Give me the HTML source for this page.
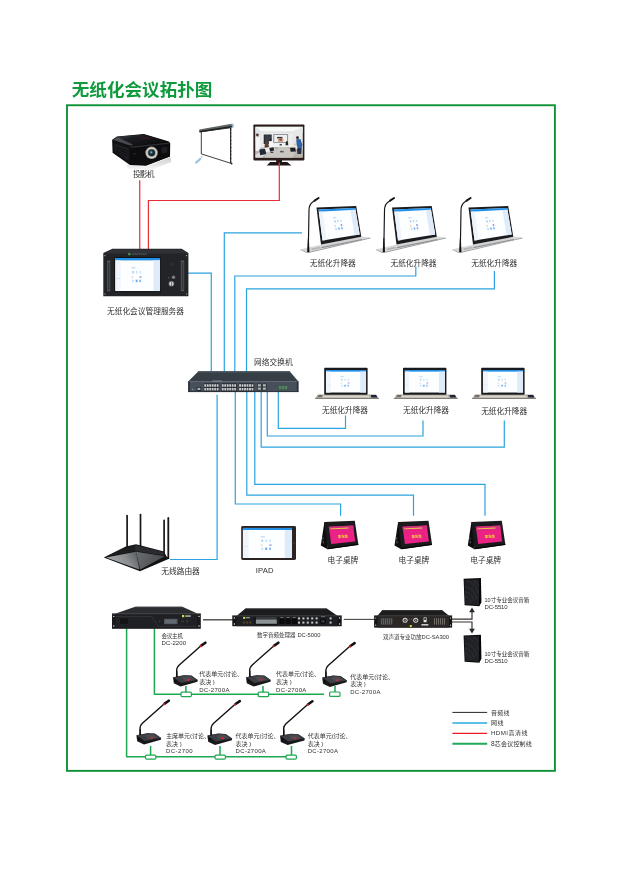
<!DOCTYPE html>
<html lang="zh-CN">
<head>
<meta charset="utf-8">
<title>无纸化会议拓扑图</title>
<style>
html,body{margin:0;padding:0;background:#fff;}
body{width:625px;height:883px;overflow:hidden;position:relative;font-family:"Liberation Sans","Noto Sans CJK SC",sans-serif;}
svg{position:absolute;left:0;top:0;display:block;will-change:transform;}
text{font-family:"Liberation Sans","Noto Sans CJK SC",sans-serif;}
.t7{font-size:7.7px;fill:#303030;font-weight:400;}
.t5{font-size:5.5px;fill:#303030;font-weight:400;}
.t5m{font-size:6px;fill:#303030;font-weight:400;}
.t5e{font-size:6px;fill:#303030;font-weight:400;}
.t6{font-size:6px;fill:#303030;font-weight:400;}
.bl{fill:none;stroke:#2ba3e0;stroke-width:1.2;}
.rd{fill:none;stroke:#ea2c36;stroke-width:1.2;}
.gn{fill:none;stroke:#1ea650;stroke-width:1.5;stroke-linejoin:round;}
.gy{fill:none;stroke:#4a4a4a;stroke-width:0.9;}
.cn{fill:#fff;stroke:#1ea650;stroke-width:1.2;}
</style>
</head>
<body>
<svg width="625" height="883" viewBox="0 0 625 883">
<!-- frame + title -->
<rect x="67" y="105.25" width="487.9" height="665.6" fill="none" stroke="#0d9236" stroke-width="1.9"/>
<text x="71.8" y="95.5" font-size="17.2" font-weight="700" fill="#0f9a3c" textLength="140.6" lengthAdjust="spacingAndGlyphs">无纸化会议拓扑图</text>

<!-- LINES -->
<g id="lines">
<!-- red hdmi -->
<path class="rd" d="M139.75 180.2V249"/>
<path class="rd" d="M279.3 163V200.5H148.4V249"/>
<!-- blue network: above switch -->
<path class="bl" d="M188 273.1H211.3V372"/>
<path class="bl" d="M302 232.8H224.3V372"/>
<path class="bl" d="M415.8 266.6V276H234.8V372"/>
<path class="bl" d="M494.4 271V288.8H246.5V372"/>
<!-- blue network: below switch -->
<path class="bl" d="M217.1 394.8V559.5H170"/>
<path class="bl" d="M235.3 392V504H340.6V515.7"/>
<path class="bl" d="M246.8 392V495.1H413.5V515.7"/>
<path class="bl" d="M254.8 392V484.4H485V515.7"/>
<path class="bl" d="M261.2 392V447.1H504.3V420.4"/>
<path class="bl" d="M267.3 392V436H423V420.4"/>
<path class="bl" d="M278.3 392V428.4H345.5V415.5"/>
<!-- gray audio -->
<path d="M203 619.8H233" stroke="#4d4848" stroke-width="1.4" fill="none"/>
<path d="M343.8 619.4H374" stroke="#4d4848" stroke-width="1.1" fill="none"/>
<path d="M451.6 619.2H472V611" stroke="#3a3432" stroke-width="1.2" fill="none"/>
<path d="M451.6 622H472V630" stroke="#3a3432" stroke-width="1.2" fill="none"/>
<path d="M472 607.4L474.9 612.2H469.1Z" fill="#2a2624"/>
<path d="M472 633.4L474.9 628.8H469.1Z" fill="#2a2624"/>
<!-- green control -->
<path class="gn" d="M154.4 628.5V694.3H324"/>
<path class="gn" d="M126.6 628.5V756.7H291"/>
<path class="gn" d="M185.9 686V692M263 686V692M335 686V692M150.6 746V755M220 746V755M291.5 746V755" stroke-width="1.2"/>
<rect class="cn" x="181" y="692.2" width="10.4" height="4.4" rx="1"/>
<rect class="cn" x="258.2" y="692.2" width="10.4" height="4.4" rx="1"/>
<rect class="cn" x="329.6" y="692" width="10.4" height="4.4" rx="1"/>
<rect class="cn" x="145.5" y="755.1" width="10.4" height="4" rx="1.2"/>
<rect class="cn" x="215" y="755.1" width="10.4" height="4" rx="1.2"/>
<rect class="cn" x="286" y="755.1" width="10.4" height="4" rx="1.2"/>
<!-- legend -->
<path d="M452.4 712.4H487.2" stroke="#2a2422" stroke-width="1" fill="none"/>
<path d="M452.4 723H487.2" stroke="#29abe2" stroke-width="1.7" fill="none"/>
<path d="M452.4 733.4H487.2" stroke="#ed1c24" stroke-width="1.2" fill="none"/>
<path d="M452.4 743.8H487.2" stroke="#1fa85a" stroke-width="1.9" fill="none"/>
</g>

<!-- DEVICES -->
<g id="devices">
<defs>
<linearGradient id="gProjTop" x1="0" y1="0" x2="1" y2="0.8"><stop offset="0" stop-color="#4a4d55"/><stop offset="0.35" stop-color="#1c1d21"/><stop offset="1" stop-color="#0a0a0c"/></linearGradient>
<radialGradient id="gLens" cx="0.45" cy="0.42" r="0.6"><stop offset="0" stop-color="#8fd6dc"/><stop offset="0.35" stop-color="#1d4a58"/><stop offset="1" stop-color="#0a0d10"/></radialGradient>
<linearGradient id="gShadow" x1="0" y1="0" x2="0" y2="1"><stop offset="0" stop-color="#c6c6c6"/><stop offset="1" stop-color="#f6f6f6"/></linearGradient>
</defs>
<!-- projector -->
<g id="projector">
<path d="M126 164.6L146 166.8L170.6 157L171.4 162L150 170.2L128 168.4Z" fill="url(#gShadow)" opacity="0.85"/>
<path d="M112.2 139.8L117 136.4L143.9 134L168.8 141.4L170.2 143.6L170 156.6L146 165.8L130 165L112.6 152.8Z" fill="#0a0a0c"/>
<path d="M112.8 139.8L117.2 136.8L143.9 134.6L168.6 141.8L130.6 146.2Z" fill="url(#gProjTop)"/>
<path d="M113.4 140L118 137.4L133 144.6L130.6 145.8Z" fill="#6d7078" opacity="0.55"/>
<path d="M138 137.7L146.6 136.9L152.4 138.5L143.4 139.7Z" fill="#3a171b" opacity="0.85"/>
<path d="M112.8 140.6L130.4 146.6L130.4 164.4L113 152.4Z" fill="#111214"/>
<path d="M114.6 143.4L128.6 148.2V160.6L114.8 151Z" fill="#1d1f23"/>
<path d="M116 146.6L127.6 151M116 148.8L127.6 153.4M116 151L127.6 156" stroke="#08080a" stroke-width="0.7" fill="none"/>
<path d="M130.6 146.6L169.6 142.6L169.6 156.4L146 165.2L130.6 164.4Z" fill="#0d0d0f"/>
<path d="M130.6 146.6L169.6 142.6L169.6 143.8L130.6 148Z" fill="#34363c" opacity="0.8"/>
<circle cx="151.6" cy="152.8" r="6.2" fill="#a9a59e"/>
<circle cx="151.6" cy="152.8" r="5.3" fill="#dedbd4"/>
<circle cx="151.6" cy="152.8" r="4.1" fill="#8a8680"/>
<circle cx="151.6" cy="152.8" r="3.3" fill="url(#gLens)"/>
<path d="M161.6 147.6L167.4 146.8V152.4L161.6 153.6Z" fill="#1e2024"/>
<rect x="133" y="153" width="3.4" height="1.6" rx="0.6" fill="#202226"/>
</g>

<!-- audio processor DC-5000 -->
<g id="proc">
<path d="M245.4 608.4H326.8L337.4 615.8H236.8Z" fill="#1c1c1f"/>
<path d="M245.8 608.4H326.4L327.6 609.2H244.6Z" fill="#3a3c40"/>
<rect x="232.3" y="615.6" width="109.4" height="10.6" fill="#141416"/>
<rect x="236.6" y="615.6" width="100.8" height="10.6" fill="#1e1f22"/>
<rect x="232.3" y="615.6" width="109.4" height="0.7" fill="#3a3c40"/>
<circle cx="234.4" cy="618" r="0.7" fill="#e6e6e6"/><circle cx="234.4" cy="624" r="0.7" fill="#e6e6e6"/>
<circle cx="339.6" cy="618" r="0.7" fill="#e6e6e6"/><circle cx="339.6" cy="624" r="0.7" fill="#e6e6e6"/>
<rect x="243.2" y="616.9" width="2" height="2" fill="#cfe04a"/>
<rect x="246" y="617.2" width="4" height="1" fill="#b0b2b5"/>
<circle cx="243.8" cy="622.6" r="1.3" fill="#4a3a2a"/><circle cx="247" cy="622.6" r="1.3" fill="#4a3a2a"/><circle cx="250.2" cy="622.6" r="1.3" fill="#4a3a2a"/>
<rect x="254.6" y="617" width="22.6" height="7.4" fill="#0c0c0e"/>
<rect x="255.8" y="619.4" width="21" height="4.4" fill="#8e9396"/>
<rect x="255.8" y="617.4" width="21" height="1.2" fill="#55585c"/>
<rect x="279.4" y="618.6" width="5.2" height="5.4" rx="0.6" fill="#0a0a0c"/>
<rect x="280.4" y="617.2" width="3" height="0.7" fill="#8a8c90"/>
<rect x="285.6" y="618.6" width="5.2" height="5.4" rx="0.6" fill="#0a0a0c"/>
<rect x="286.6" y="617.2" width="3" height="0.7" fill="#8a8c90"/>
<rect x="291.8" y="618.6" width="5.2" height="5.4" rx="0.6" fill="#0a0a0c"/>
<rect x="292.8" y="617.2" width="3" height="0.7" fill="#8a8c90"/>
<rect x="298.0" y="617.4" width="2" height="2" fill="#c8cacc"/>
<rect x="302.4" y="617.4" width="2" height="2" fill="#c8cacc"/>
<rect x="306.8" y="617.4" width="2" height="2" fill="#c8cacc"/>
<rect x="311.2" y="617.4" width="2" height="2" fill="#c8cacc"/>
<rect x="315.6" y="617.4" width="2" height="2" fill="#c8cacc"/>
<rect x="298.0" y="621.6" width="2" height="2" fill="#c8cacc"/>
<rect x="302.4" y="621.6" width="2" height="2" fill="#c8cacc"/>
<rect x="306.8" y="621.6" width="2" height="2" fill="#c8cacc"/>
<rect x="311.2" y="621.6" width="2" height="2" fill="#c8cacc"/>
<rect x="315.6" y="621.6" width="2" height="2" fill="#c8cacc"/>
<circle cx="323" cy="621.2" r="3" fill="#0a0a0c"/><circle cx="323" cy="621.2" r="1.8" fill="#34363a"/>
<rect x="321" y="616.4" width="4" height="0.7" fill="#8a8c90"/>
<rect x="329.6" y="617.4" width="2" height="2" fill="#c8cacc"/><rect x="329.6" y="621.6" width="2" height="2" fill="#c8cacc"/>
</g>

<!-- amp DC-SA300 -->
<g id="amp">
<path d="M382.4 610H442L449 615.8H377.4Z" fill="#1f1d1c"/>
<path d="M382.8 610H441.6L442.6 610.8H381.8Z" fill="#3a3c40"/>
<rect x="374.1" y="615.6" width="78" height="12" fill="#141416"/>
<rect x="377.4" y="615.6" width="71.6" height="12" fill="#2a2725"/>
<rect x="374.1" y="615.6" width="78" height="0.7" fill="#3a3c40"/>
<circle cx="375.7" cy="618" r="0.6" fill="#e6e6e6"/><circle cx="375.7" cy="625.2" r="0.6" fill="#e6e6e6"/>
<circle cx="450.5" cy="618" r="0.6" fill="#e6e6e6"/><circle cx="450.5" cy="625.2" r="0.6" fill="#e6e6e6"/>
<rect x="380.5" y="617.7" width="12.4" height="7.4" fill="#2a2b2e"/>
<rect x="381.30" y="618.2" width="0.9" height="6.4" fill="#77736f"/>
<rect x="383.30" y="618.2" width="0.9" height="6.4" fill="#77736f"/>
<rect x="385.30" y="618.2" width="0.9" height="6.4" fill="#77736f"/>
<rect x="387.30" y="618.2" width="0.9" height="6.4" fill="#77736f"/>
<rect x="389.30" y="618.2" width="0.9" height="6.4" fill="#77736f"/>
<rect x="391.30" y="618.2" width="0.9" height="6.4" fill="#77736f"/>
<rect x="433.3" y="617.7" width="12.4" height="7.4" fill="#2a2b2e"/>
<rect x="434.10" y="618.2" width="0.9" height="6.4" fill="#77736f"/>
<rect x="436.10" y="618.2" width="0.9" height="6.4" fill="#77736f"/>
<rect x="438.10" y="618.2" width="0.9" height="6.4" fill="#77736f"/>
<rect x="440.10" y="618.2" width="0.9" height="6.4" fill="#77736f"/>
<rect x="442.10" y="618.2" width="0.9" height="6.4" fill="#77736f"/>
<rect x="444.10" y="618.2" width="0.9" height="6.4" fill="#77736f"/>
<circle cx="405.1" cy="620.2" r="2.5" fill="#d9dadb"/><circle cx="405.1" cy="620.2" r="1.5" fill="#2a2b2e"/><circle cx="405.1" cy="620.2" r="0.6" fill="#c8c9ca"/>
<circle cx="415.7" cy="620.2" r="2.5" fill="#d9dadb"/><circle cx="415.7" cy="620.2" r="1.5" fill="#2a2b2e"/><circle cx="415.7" cy="620.2" r="0.6" fill="#c8c9ca"/>
<circle cx="409.2" cy="619.2" r="0.6" fill="#d8343a"/><circle cx="411.6" cy="619.2" r="0.6" fill="#d8343a"/>
<rect x="409.8" y="625" width="2" height="2" fill="#c9e04a"/>
<rect x="423.6" y="617.4" width="3" height="4.8" fill="#e4e5e6"/><rect x="424.3" y="618" width="1.6" height="2" fill="#2a2b2e"/>
<rect x="421.4" y="624" width="7" height="1.6" fill="#c8c9ca"/>
</g>
<!-- speakers -->
<defs><g id="spk">
<path d="M463.6 578.8L480.9 578.1L481.3 602.2L479.4 606.2L464.6 605.2Z" fill="#0c0c0e"/>
<path d="M464.4 580L479.2 579.4L479 605.2L465.2 604.2Z" fill="#202125"/>
<path d="M465 587C470 587 475 591 477 599M465 592C469 592 472 595 474 601M465 597C467.6 597 470 599 471 603M467 581C472 582 477 587 478.6 594M473 580.4C475.6 581.6 477.6 583.6 478.6 586" fill="none" stroke="#35373c" stroke-width="0.7"/>
<path d="M466 604L478 590M468 604L478.6 596M465 598L476 581" fill="none" stroke="#2b2d31" stroke-width="0.5"/>
<path d="M479.4 579.2L481 578.6L481.2 602L479.2 605.6Z" fill="#060607"/>
</g></defs>
<use href="#spk"/>
<use href="#spk" y="56.6"/>

<!-- microphones -->
<defs>
<g id="mic">
<path d="M173 677.2L183.8 675.2L191.4 675.6L197.8 680L197.4 681.8L180.6 686.5L173.8 683.3Z" fill="#18181b"/>
<path d="M173.2 677.2L183.8 675.4L191.2 675.8L197.4 680L181.4 683Z" fill="#3d3f44"/>
<path d="M182 677L190 676.6L193.6 679.4L184.6 681Z" fill="#4a4d53"/>
<rect x="174.6" y="679.6" width="1.6" height="2.2" fill="#0a0a0c"/>
<circle cx="188.4" cy="679.8" r="1.15" fill="#e0202c"/>
<path d="M176.7 676.4V669.6C176.7 667.6 177.6 666.6 179 665.2L200.4 646.2" fill="none" stroke="#111113" stroke-width="1.4" stroke-linecap="round" stroke-linejoin="round"/>
<path d="M176 677L176.2 671H177.3L177.6 677Z" fill="#111113"/>
<path d="M201.2 645.6L205.4 642.7" stroke="#111113" stroke-width="2.6" stroke-linecap="round"/>
<path d="M200.1 646.6L201.4 645.5" stroke="#d8202c" stroke-width="2.2"/>
</g>
</defs>
<use href="#mic"/>
<use href="#mic" x="73"/>
<use href="#mic" x="149.2" y="0.4"/>
<use href="#mic" x="-36.6" y="58"/>
<use href="#mic" x="34.4" y="58.4"/>
<use href="#mic" x="107" y="58.6"/>

<!-- projection screen -->
<g id="pscreen">
<path d="M201.3 131.6L230.5 127.8L230.5 163.2L201.3 153.9Z" fill="#fff" stroke="#26282b" stroke-width="0.9"/>
<path d="M230.9 128V164" stroke="#1d1f22" stroke-width="1" stroke-dasharray="3 0.6"/>
<circle cx="231.6" cy="163.6" r="0.9" fill="#1d1f22"/>
<path d="M199.2 129.4L231.6 123.7L233 126.9L199.5 132.2Z" fill="#5f6562"/>
<path d="M199.3 131L232.8 125.8L233 127.3L199.5 132.6Z" fill="#1e2022"/>
<path d="M231.2 123.7L233.3 123.5L234 126.8L232.2 127.3Z" fill="#8fb4df"/>
<path d="M194.8 162.2L200.2 157.6L201.6 159.2L196.2 164Z" fill="#9ec3da"/>
<circle cx="201.8" cy="156.9" r="0.7" fill="#e98a8a"/>
</g>
<!-- TV -->
<g id="tv">
<path d="M276.2 160H282V162H287.2L291.4 165.4H266.7L270.2 162H276.2Z" fill="#1f1715"/>
<rect x="253.4" y="124.4" width="51" height="36" rx="0.8" fill="#2b1e1b"/>
<rect x="255.5" y="126.8" width="47.1" height="30.7" fill="#eceeed"/>
<rect x="255.5" y="126.8" width="47.1" height="4.8" fill="#f7f8f8"/>
<rect x="255.5" y="131.5" width="47.1" height="1.3" fill="#dfe2e2"/>
<path d="M255.5 126.8L261.5 131.5L261.5 147.9L255.5 150.5Z" fill="#e2e6e8"/>
<path d="M302.5 126.8L292.6 131.5L292.6 147.1L302.5 150.5Z" fill="#e6e8e8"/>
<path d="M255.5 150.5L261.5 147.5L292.6 147.1L302.5 150.5L302.5 157.4L255.5 157.4Z" fill="#b9b5ad"/>
<path d="M264.1 150.5L272.7 147.1L286.6 147.1L295.2 151.4L292.6 157.4L265.0 157.4Z" fill="#c9c6bf"/>
<path d="M255.5 154.8L263.2 150.5L266.7 151.4L262.4 157.4L255.5 157.4Z" fill="#dcdcda"/>
<rect x="263.7" y="134.5" width="8.0" height="9.5" fill="#2a2e33"/>
<rect x="265.0" y="135.4" width="5.6" height="8.2" fill="#3a3f45"/>
<rect x="273.2" y="133.9" width="14.9" height="9.1" fill="#8e9499" rx="0.6"/>
<rect x="274.3" y="135.0" width="12.7" height="7.1" fill="#eef0f2"/>
<rect x="277.1" y="136.9" width="5.4" height="1.6" fill="#2f3338"/>
<rect x="277.9" y="138.4" width="5.4" height="3.5" fill="#d6a08c"/>
<rect x="279.5" y="138.6" width="2.3" height="2.0" fill="#7a4a3c"/>
<rect x="273.6" y="143.6" width="14.7" height="2.2" fill="#f2f3f3"/>
<rect x="279.6" y="144.0" width="2.2" height="1.5" fill="#3b3f45"/>
<ellipse cx="257.4" cy="135.0" rx="1.4" ry="1.4" fill="#4b3428"/>
<path d="M255.6 136.9L259.6 136.7L260.6 143.6L259.9 150.5L255.9 150.9Z" fill="#f5f5f5"/>
<path d="M257.2 135.8L258.5 135.8L258.4 137.2L257.2 137.2Z" fill="#c99a80"/>
<ellipse cx="297.5" cy="137.7" rx="1.4" ry="1.4" fill="#2e221d"/>
<path d="M296.2 139.3L300.4 139.1L302.3 144.5L301.7 147.9L296.9 147.9Z" fill="#2f62a8"/>
<path d="M296.9 147.9L301.7 147.9L301.2 154.1L297.4 154.1Z" fill="#27334d"/>
<ellipse cx="270.4" cy="140.0" rx="1.1" ry="1.1" fill="#2f231e"/>
<path d="M268.8 141.2L272.6 141.0L273.3 147.1L269.3 147.9Z" fill="#f6f6f6"/>
<path d="M265.0 142.7L268.0 142.0L269.3 147.9L265.8 149.6L264.5 147.1Z" fill="#5b4030"/>
<path d="M264.1 147.9L269.3 147.1L270.6 151.4L265.0 152.2Z" fill="#ececec"/>
<path d="M259.3 149.6L265.0 148.8L266.3 154.0L260.2 155.3Z" fill="#222a3a"/>
<path d="M269.3 147.9L273.6 147.2L274.1 150.5L270.1 151.4Z" fill="#1f2530"/>
<ellipse cx="295.0" cy="144.6" rx="1.1" ry="1.1" fill="#d9c7a4"/>
<path d="M293.3 145.8L296.9 145.5L297.6 148.8L293.5 149.2Z" fill="#efe9dc"/>
<path d="M290.0 147.9L295.2 147.6L295.9 151.4L290.7 151.7Z" fill="#1d1f25"/>
<path d="M285.9 141.9L287.9 141.7L288.3 145.3L285.5 145.3Z" fill="#2b2624"/>
<ellipse cx="286.8" cy="141.7" rx="0.7" ry="0.7" fill="#2b2624"/>
<rect x="280.1" y="150.9" width="3.5" height="1.5" fill="#4b5566"/>
<rect x="275.2" y="147.6" width="2.8" height="0.9" fill="#8a8a88"/>
<rect x="270.6" y="151.8" width="2.6" height="1.1" fill="#2b2f38"/>
<path d="M279.3 162.6V166" stroke="#e8343e" stroke-width="1.3" fill="none"/>
</g>

<!-- server -->
<g id="server">
<symbol id="appscreen" viewBox="0 0 100 72" preserveAspectRatio="none">
<rect width="100" height="72" fill="#fdfeff"/>
<rect width="100" height="5.2" fill="#2390e8"/>
<rect x="0" y="5.2" width="12" height="66.8" fill="#f0f5fc"/>
<rect x="2" y="44" width="9" height="1.6" fill="#cfe2f7"/>
<rect x="85" y="5.2" width="15" height="66.8" fill="#e0ebfa"/>
<rect x="36" y="20" width="9" height="2.8" fill="#bcd8f5"/>
<g>
<rect x="38" y="28" width="3.4" height="5.5" fill="#a9cdf2"/><rect x="46" y="28" width="3" height="5.5" fill="#c3dcf6"/><rect x="54" y="28" width="3" height="5.5" fill="#c3dcf6"/>
<rect x="36.5" y="39.5" width="3.4" height="4" fill="#e6d9c6"/><rect x="54" y="39.5" width="4.4" height="3.4" fill="#9a9fd8"/>
<rect x="38" y="47" width="3.4" height="5.5" fill="#c3dcf6"/><rect x="45.6" y="47" width="4" height="5.5" fill="#6cabea"/><rect x="53.6" y="47" width="3.6" height="5.5" fill="#7db6ee"/>
</g>
</symbol>
<path d="M103.3 253L112.4 248.8H181.6L188.4 253V296.2H103.3Z" fill="#232427"/>
<path d="M104 253.4L112.6 249.5H181.4L187.8 253.4Z" fill="#2f3136"/>
<rect x="114.4" y="257.3" width="46.6" height="34.8" fill="#0a0a0c"/>
<use href="#appscreen" x="115.2" y="258" width="45" height="33.2"/>
<rect x="107.1" y="260.5" width="3.2" height="30.8" rx="0.8" fill="#55585c"/>
<rect x="107.8" y="262" width="1.8" height="28" fill="#33363a"/>
<rect x="180.8" y="260.5" width="3.4" height="30.8" rx="0.8" fill="#55585c"/>
<rect x="181.6" y="262" width="1.8" height="28" fill="#33363a"/>
<rect x="128.2" y="253" width="2.2" height="2.2" fill="#3ea24a"/>
<rect x="131.6" y="253.6" width="15" height="0.9" fill="#5b6068"/>
<circle cx="172.2" cy="264.3" r="2" fill="#2c2e33"/>
<circle cx="173.5" cy="277.3" r="1.7" fill="#7b7f84"/>
<circle cx="168.8" cy="277.6" r="0.9" fill="#4a4d52"/>
<circle cx="171.4" cy="283.8" r="3" fill="#4b4e52"/>
<circle cx="171.4" cy="283.8" r="2.3" fill="#c9ccce"/>
<rect x="171" y="281.6" width="0.8" height="4.4" fill="#6a6d70"/>
<g fill="#c8c8c8"><circle cx="105" cy="255.6" r="0.6"/><circle cx="186.6" cy="255.6" r="0.6"/><circle cx="105" cy="294" r="0.6"/><circle cx="186.6" cy="294" r="0.6"/></g>
</g>

<!-- lift devices top row -->
<defs>
<g id="lift">
<path d="M300.5 249.2L322 244.6L362 236.6L370.3 237.6L307.4 252.2Z" fill="#d8d9da"/>
<path d="M300.5 249.2L307.4 252.2L370.3 237.6L370.3 238.4L307.4 253.2L300.5 250Z" fill="#9b9c9e"/>
<path d="M311 248.6L320 246.8L321 248.2L312 250.2Z" fill="#b4b5b7"/>
<path d="M321 244.5L361.3 236.8L362 239.8L321.6 248Z" fill="#d2d3d5"/>
<path d="M321.5 247L361.9 238.9L362 240L321.6 248.2Z" fill="#8f9092"/>
<path d="M316.5 207.6L356.2 206.1L361.3 236.8L321 244.5Z" fill="#1b1c1f"/>
<path d="M318.5 209.6L355.2 208.0L359.7 234.4L322.5 240.6Z" fill="#fdfeff"/>
<path d="M318.5 209.6L355.2 208.0L355.5 209.8L318.8 211.8Z" fill="#2390e8"/>
<path d="M318.8 211.8L322.8 211.6L326.6 239.9L322.5 240.6Z" fill="#eef4fb"/>
<path d="M350.4 210.1L355.5 209.8L359.7 234.4L354.5 235.3Z" fill="#e0ebfa"/>
<path d="M332.9 217.2L336.2 217.0L336.4 218.1L333.0 218.4Z" fill="#bcd8f5"/>
<path d="M334.1 220.4L335.6 220.3L335.9 222.4L334.4 222.6Z" fill="#a9cdf2"/>
<path d="M337.0 220.1L338.5 220.0L338.8 222.1L337.3 222.3Z" fill="#c3dcf6"/>
<path d="M340.0 219.9L341.5 219.7L341.8 221.8L340.3 222.0Z" fill="#c3dcf6"/>
<path d="M334.3 224.8L335.8 224.7L336.1 226.8L334.7 227.0Z" fill="#e6d9c6"/>
<path d="M340.6 224.1L342.1 224.0L342.4 226.1L340.9 226.3Z" fill="#9a9fd8"/>
<path d="M335.2 228.0L336.7 227.8L337.0 230.0L335.5 230.2Z" fill="#c3dcf6"/>
<path d="M338.1 227.6L339.6 227.5L339.9 229.6L338.4 229.8Z" fill="#6cabea"/>
<path d="M341.1 227.3L342.6 227.1L342.9 229.2L341.4 229.4Z" fill="#7db6ee"/>
<path d="M308.3 251.6C308.5 236 308.8 220 309 210C309.1 205.6 310.2 203.8 312.4 202.2L314.6 200.6" fill="none" stroke="#141416" stroke-width="1.15" stroke-linecap="round"/>
<path d="M307.2 252L307.9 238H308.8L309.5 252Z" fill="#141416"/>
<path d="M314.6 200.6L318.6 198" stroke="#141416" stroke-width="2" stroke-linecap="round"/>
</g>
</defs>
<use href="#lift"/>
<use href="#lift" x="75.5"/>
<use href="#lift" x="152"/>

<!-- laptop-style lifts second row -->
<defs>
<g id="lap">
<path d="M317.8 394.6H376L379 398.8H315Z" fill="#aaa598"/>
<path d="M323 395.6H369L370 397.6H322Z" fill="#d9d6cd"/>
<path d="M315 398.2H379V398.9H315Z" fill="#6e6a62"/>
<path d="M318.6 395.2H322.6L322 396.8H317.8Z" fill="#5d5a55"/>
<path d="M370.8 395H376.2L377.4 397.6H371.4Z" fill="#1c2238"/>
<rect x="324.2" y="367.8" width="43.4" height="27" rx="0.8" fill="#1a1a1c"/>
<use href="#appscreen" x="325.8" y="370" width="40.4" height="22.7"/>
</g>
</defs>
<use href="#lap"/>
<use href="#lap" x="78.8"/>
<use href="#lap" x="157"/>

<!-- switch -->
<g id="switch">
<path d="M198.4 371.2H289.6L298.4 381.6H188.2Z" fill="#363e46"/>
<path d="M198.8 371.2H289.2L290.3 372.4H197.8Z" fill="#4e5760"/>
<rect x="188.2" y="381.4" width="110.2" height="10.6" fill="#47505a"/>
<rect x="188.2" y="381.4" width="110.2" height="0.7" fill="#5d6670"/>
<rect x="188.2" y="391.3" width="110.2" height="0.8" fill="#262b31"/>
<rect x="188.2" y="381.4" width="1.6" height="10.6" fill="#2a3037"/>
<rect x="296.8" y="381.4" width="1.6" height="10.6" fill="#2a3037"/>
<rect x="203.9" y="383.4" width="15.4" height="8" fill="#1e2329"/>
<rect x="204.30" y="384.20" width="1.9" height="2.6" fill="#c6cacd"/>
<rect x="206.78" y="384.20" width="1.9" height="2.6" fill="#c6cacd"/>
<rect x="209.26" y="384.20" width="1.9" height="2.6" fill="#c6cacd"/>
<rect x="211.74" y="384.20" width="1.9" height="2.6" fill="#c6cacd"/>
<rect x="214.22" y="384.20" width="1.9" height="2.6" fill="#c6cacd"/>
<rect x="216.70" y="384.20" width="1.9" height="2.6" fill="#c6cacd"/>
<rect x="204.30" y="387.90" width="1.9" height="2.6" fill="#c6cacd"/>
<rect x="206.78" y="387.90" width="1.9" height="2.6" fill="#c6cacd"/>
<rect x="209.26" y="387.90" width="1.9" height="2.6" fill="#c6cacd"/>
<rect x="211.74" y="387.90" width="1.9" height="2.6" fill="#c6cacd"/>
<rect x="214.22" y="387.90" width="1.9" height="2.6" fill="#c6cacd"/>
<rect x="216.70" y="387.90" width="1.9" height="2.6" fill="#c6cacd"/>
<rect x="221.4" y="383.4" width="15.4" height="8" fill="#1e2329"/>
<rect x="221.80" y="384.20" width="1.9" height="2.6" fill="#c6cacd"/>
<rect x="224.28" y="384.20" width="1.9" height="2.6" fill="#c6cacd"/>
<rect x="226.76" y="384.20" width="1.9" height="2.6" fill="#c6cacd"/>
<rect x="229.24" y="384.20" width="1.9" height="2.6" fill="#c6cacd"/>
<rect x="231.72" y="384.20" width="1.9" height="2.6" fill="#c6cacd"/>
<rect x="234.20" y="384.20" width="1.9" height="2.6" fill="#c6cacd"/>
<rect x="221.80" y="387.90" width="1.9" height="2.6" fill="#c6cacd"/>
<rect x="224.28" y="387.90" width="1.9" height="2.6" fill="#c6cacd"/>
<rect x="226.76" y="387.90" width="1.9" height="2.6" fill="#c6cacd"/>
<rect x="229.24" y="387.90" width="1.9" height="2.6" fill="#c6cacd"/>
<rect x="231.72" y="387.90" width="1.9" height="2.6" fill="#c6cacd"/>
<rect x="234.20" y="387.90" width="1.9" height="2.6" fill="#c6cacd"/>
<rect x="238.7" y="383.4" width="15.4" height="8" fill="#1e2329"/>
<rect x="239.10" y="384.20" width="1.9" height="2.6" fill="#c6cacd"/>
<rect x="241.58" y="384.20" width="1.9" height="2.6" fill="#c6cacd"/>
<rect x="244.06" y="384.20" width="1.9" height="2.6" fill="#c6cacd"/>
<rect x="246.54" y="384.20" width="1.9" height="2.6" fill="#c6cacd"/>
<rect x="249.02" y="384.20" width="1.9" height="2.6" fill="#c6cacd"/>
<rect x="251.50" y="384.20" width="1.9" height="2.6" fill="#c6cacd"/>
<rect x="239.10" y="387.90" width="1.9" height="2.6" fill="#c6cacd"/>
<rect x="241.58" y="387.90" width="1.9" height="2.6" fill="#c6cacd"/>
<rect x="244.06" y="387.90" width="1.9" height="2.6" fill="#c6cacd"/>
<rect x="246.54" y="387.90" width="1.9" height="2.6" fill="#c6cacd"/>
<rect x="249.02" y="387.90" width="1.9" height="2.6" fill="#c6cacd"/>
<rect x="251.50" y="387.90" width="1.9" height="2.6" fill="#c6cacd"/>
<rect x="212.4" y="380.5" width="9.6" height="1.3" fill="#7b838b"/>
<rect x="257.2" y="383.6" width="4.3" height="6.8" fill="#22272c"/>
<rect x="257.8" y="384.2" width="3.1" height="2.3" fill="#aeb3b7"/>
<rect x="257.8" y="387.5" width="3.1" height="2.3" fill="#aeb3b7"/>
<rect x="262.2" y="383.6" width="4.3" height="6.8" fill="#22272c"/>
<rect x="262.8" y="384.2" width="3.1" height="2.3" fill="#aeb3b7"/>
<rect x="262.8" y="387.5" width="3.1" height="2.3" fill="#aeb3b7"/>
<rect x="196.6" y="387" width="4.6" height="3.8" fill="#1d2126"/><rect x="197.4" y="387.8" width="3" height="2.2" fill="#a9aeb2"/>
<circle cx="192.6" cy="389.4" r="0.7" fill="#8d949a"/>
<rect x="278" y="385.2" width="9.8" height="4.8" fill="#3d5a47"/><rect x="279" y="386" width="2.4" height="3.2" fill="#56806a"/><rect x="282" y="386" width="2.4" height="3.2" fill="#56806a"/><rect x="285" y="386" width="2.2" height="3.2" fill="#56806a"/>
</g>

<!-- router -->
<g id="router">
<defs>
<linearGradient id="gRtL" gradientUnits="userSpaceOnUse" x1="136" y1="552" x2="116" y2="564"><stop offset="0" stop-color="#5d6063"/><stop offset="0.5" stop-color="#8b8e91"/><stop offset="1" stop-color="#9fa2a5"/></linearGradient>
<linearGradient id="gRtR" gradientUnits="userSpaceOnUse" x1="137" y1="553" x2="160" y2="562"><stop offset="0" stop-color="#6a6d70"/><stop offset="1" stop-color="#4a4c4f"/></linearGradient>
</defs>
<path d="M127.1 515.6V548" stroke="#17171a" stroke-width="1.7" stroke-linecap="round"/>
<path d="M140.5 514.6V547" stroke="#17171a" stroke-width="1.7" stroke-linecap="round"/>
<path d="M164.1 520.4V555" stroke="#17171a" stroke-width="1.7" stroke-linecap="round"/>
<path d="M168.3 518V558" stroke="#17171a" stroke-width="1.8" stroke-linecap="round"/>
<path d="M103.8 557.4L125.8 546.6L136 544.2L164 551.4L166.6 556.4L169.6 558.6L140 571.2Z" fill="#121214"/>
<path d="M106 557.6L136 551.8L139.4 569.6Z" fill="url(#gRtL)"/>
<path d="M136 551.8L164.8 556.2L140.2 569.4Z" fill="url(#gRtR)"/>
<path d="M106 556.6L126 547.4L136 545.2L136 551.2Z" fill="#1d1e20"/>
<path d="M136 545.2L163.2 552L164.4 555.4L136.4 551.2Z" fill="#2a2b2e"/>
<path d="M136 545L136 551.8" stroke="#45474a" stroke-width="0.5"/>
</g>
<!-- ipad -->
<g id="ipad">
<rect x="241.2" y="526.1" width="54.8" height="33.8" rx="1.4" fill="#2a2321"/>
<use href="#appscreen" x="242.7" y="527.8" width="49.4" height="30.3"/>
<circle cx="294.2" cy="543" r="0.6" fill="#6a6360"/>
</g>

<!-- table signs -->
<defs>
<g id="sign">
<path d="M324.4 522L320.8 545.6L327.6 549.2L328 524Z" fill="#0e0e10"/>
<path d="M324.4 522L354.8 520.8L358.4 544.8L327.6 549.2Z" fill="#1b1b1e"/>
<path d="M327.4 548L358.3 543.8L358.4 544.9L327.6 549.3Z" fill="#050506"/>
<path d="M328.8 526.8L353.2 525.6L355.2 541.6L331.2 544Z" fill="#ea2285"/>
<path d="M328.8 526.8L353.2 525.6L353.6 528.7L329.2 529.9Z" fill="#d0307e"/>
<path d="M330.4 528.4L348.4 527.5L348.5 528.4L330.5 529.3Z" fill="#f0d24a"/>
<text x="337.6" y="537.7" font-size="3.5" font-weight="700" fill="#f7e331" transform="rotate(-3 342.8 536)" textLength="10.4">李先生</text>
<rect x="322.4" y="537.4" width="1.1" height="2.2" fill="#55585c"/>
<rect x="322.8" y="541.2" width="1.1" height="2.2" fill="#55585c"/>
</g>
</defs>
<use href="#sign"/>
<use href="#sign" x="73.7"/>
<use href="#sign" x="147"/>

<!-- conference host DC-2200 -->
<g id="host">
<path d="M135.2 606.7H182.4L197.8 613.8H115Z" fill="#2c2d31"/>
<path d="M135.6 606.7H182L183.6 607.6H134Z" fill="#47494e"/>
<rect x="112" y="613.6" width="88.8" height="15.2" fill="#1a1a1d"/>
<rect x="112" y="613.6" width="88.8" height="0.8" fill="#3a3c40"/>
<rect x="115.6" y="615.2" width="81.6" height="12.4" fill="#202125"/>
<path d="M116 616.6H152L158 626.4H196" fill="none" stroke="#3c3e43" stroke-width="0.6"/>
<rect x="120" y="618.4" width="8" height="5.6" fill="#141416"/>
<rect x="164" y="618.8" width="13.6" height="5.4" fill="#4f555b"/>
<rect x="165" y="619.6" width="11.6" height="3.8" fill="#626970"/>
<rect x="182" y="615" width="2.2" height="2.2" fill="#d9e24c"/>
<rect x="185.2" y="615.4" width="5.6" height="1.3" fill="#c9cacc"/>
<circle cx="182.6" cy="621.4" r="1.2" fill="#37393d"/>
<circle cx="187.2" cy="621.4" r="1.2" fill="#37393d"/>
<circle cx="159.6" cy="621.6" r="0.7" fill="#4a4c50"/>
<g fill="#e6e6e6"><circle cx="113.8" cy="616.4" r="0.7"/><circle cx="113.8" cy="626" r="0.7"/><circle cx="199" cy="616.4" r="0.7"/><circle cx="199" cy="626" r="0.7"/></g>
</g>

</g>

<!-- LABELS -->
<g id="labels">
<text class="t7" x="133" y="176.6" textLength="21.4">投影机</text>
<text class="t7" x="107" y="313.7" textLength="77">无纸化会议管理服务器</text>
<text class="t7" x="309.8" y="265.7" textLength="46">无纸化升降器</text>
<text class="t7" x="390.5" y="265.7" textLength="46">无纸化升降器</text>
<text class="t7" x="471.3" y="265.7" textLength="46">无纸化升降器</text>
<text class="t7" x="254" y="364.8" textLength="38.8">网络交换机</text>
<text class="t7" x="322" y="413.2" textLength="46">无纸化升降器</text>
<text class="t7" x="403" y="413.2" textLength="46">无纸化升降器</text>
<text class="t7" x="481.2" y="413.6" textLength="46">无纸化升降器</text>
<text class="t7" x="161.3" y="573.8" textLength="38.5">无线路由器</text>
<text class="t7" x="255.7" y="573.4" textLength="17.9">IPAD</text>
<text class="t7" x="327.6" y="563.4" textLength="30.7">电子桌牌</text>
<text class="t7" x="398.6" y="563.4" textLength="30.7">电子桌牌</text>
<text class="t7" x="470.3" y="563.4" textLength="30.7">电子桌牌</text>

<text class="t5" x="161.6" y="638" textLength="21.3">会议主机</text>
<text class="t5e" x="161.6" y="645.2" textLength="24.4">DC-2200</text>
<text class="t5" x="257" y="636.7" textLength="38.4">数字音频处理器</text>
<text class="t5" x="297.4" y="636.7" style="font-size:5.8px" textLength="23">DC-5000</text>
<text class="t5" x="383" y="638.6" textLength="38.4">双声道专业功放</text>
<text class="t5" x="421.6" y="638.6" style="font-size:5.8px" textLength="27.4">DC-SA300</text>
<text class="t5" x="484.5" y="601.7" textLength="44.8">10寸专业会议音箱</text>
<text class="t5e" x="484.5" y="608.8" textLength="23.1">DC-5510</text>
<text class="t5" x="484.5" y="655.9" textLength="44.8">10寸专业会议音箱</text>
<text class="t5e" x="484.5" y="663.2" textLength="23.1">DC-5510</text>

<text class="t5m" x="199.2" y="676.1" textLength="43.9">代表单元(讨论、</text>
<text class="t5m" x="199.2" y="683.7">表决 )</text>
<text class="t5e" x="199.2" y="691.8" textLength="30.2">DC-2700A</text>
<text class="t5m" x="276.1" y="676.1" textLength="43.9">代表单元(讨论、</text>
<text class="t5m" x="276.1" y="683.7">表决 )</text>
<text class="t5e" x="276.1" y="691.8" textLength="30.2">DC-2700A</text>
<text class="t5m" x="350.2" y="678.9" textLength="43.9">代表单元(讨论、</text>
<text class="t5m" x="350.2" y="686">表决 )</text>
<text class="t5e" x="350.2" y="694" textLength="30.2">DC-2700A</text>

<text class="t5m" x="166" y="738" textLength="43.9">主席单元(讨论、</text>
<text class="t5m" x="166" y="745.8">表决 )</text>
<text class="t5e" x="166" y="753" textLength="26.5">DC-2700</text>
<text class="t5m" x="235.6" y="738" textLength="43.9">代表单元(讨论、</text>
<text class="t5m" x="235.6" y="745.8">表决 )</text>
<text class="t5e" x="235.6" y="753" textLength="30.2">DC-2700A</text>
<text class="t5m" x="307.7" y="738" textLength="43.9">代表单元(讨论、</text>
<text class="t5m" x="307.7" y="745.8">表决 )</text>
<text class="t5e" x="307.7" y="753" textLength="30.2">DC-2700A</text>

<text class="t6" x="490.9" y="714.5" textLength="18.6">音频线</text>
<text class="t6" x="490.9" y="724.8" textLength="12.5">网线</text>
<text class="t6" x="490.9" y="735.2" textLength="36.5"><tspan font-size="6.2">HDMI</tspan>高清线</text>
<text class="t6" x="490.9" y="746.2" textLength="40.9"><tspan font-size="6.6">8</tspan>芯会议控制线</text>
</g>
</svg>
</body>
</html>
